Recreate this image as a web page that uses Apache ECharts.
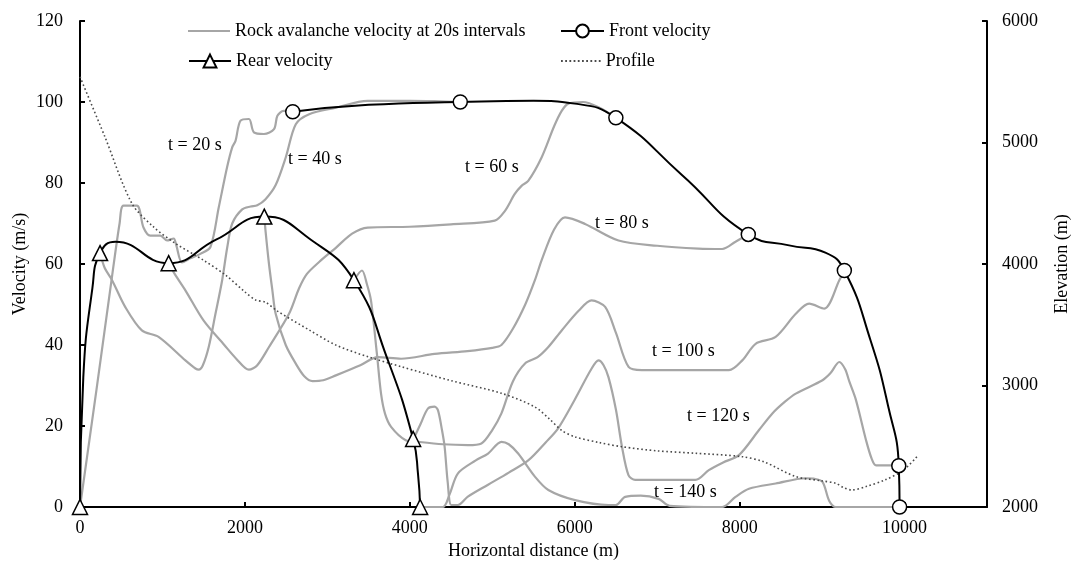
<!DOCTYPE html>
<html>
<head>
<meta charset="utf-8">
<script src="https://cdn.jsdelivr.net/npm/echarts@6/dist/echarts.min.js"></script>
<style>html,body{margin:0;padding:0;background:#fff}#c{width:1072px;height:563px}</style>
</head>
<body>
<div id="c"></div>
<script>
// ---- data (x: horizontal distance m, y: velocity m/s) ----
const xTicks = [0, 2000, 4000, 6000, 8000, 10000];
const t20 = [[0,0],[200,29],[389,57],[480,70],[527,74.4],[690,74.4],[770,69],[852,67],[974,67],[1055,65.8],[1136,66.3],[1168,64.6],[1237,60.4],[1339,61.4],[1460,62.5],[1582,64.2],[1683,74],[1785,84],[1846,88.8],[1886,90.4],[1947,95.4],[2049,95.8],[2109,92.5],[2231,92.1],[2353,93.3],[2394,96.6],[2470,97.8],[2580,97.6]];
const t40 = [[243,62.7],[300,59],[389,56],[548,49.4],[750,43.6],[953,42],[1278,36.2],[1400,34.2],[1440,33.9],[1490,35],[1561,39.5],[1643,47.7],[1724,56],[1785,64],[1846,70],[1967,73.5],[2069,74.2],[2150,74.5],[2250,76],[2373,79.5],[2495,86.3],[2617,94.5],[2779,97],[3103,98.6],[3489,100.3],[4000,100.3],[4300,100.2],[4612,100]];
const t60 = [[1075,60.2],[1150,57.5],[1278,53.5],[1500,46],[1750,40],[1900,36.5],[2048,33.9],[2150,35],[2292,39.5],[2535,47.7],[2657,54],[2750,57.5],[2900,60.5],[3103,64],[3300,67.5],[3489,69],[4000,69.2],[4500,69.8],[5030,70.7],[5150,73],[5273,77.3],[5355,79.3],[5436,80.5],[5598,86.3],[5750,94],[5842,97.8],[5923,99.6],[6100,100],[6300,98.6],[6499,96.1]];
const t80 = [[2235,71.7],[2251,68],[2292,60],[2333,53.5],[2373,47.7],[2495,40],[2617,35.4],[2720,32.3],[2820,31.1],[2950,31.3],[3103,32.5],[3400,35],[3611,37],[3894,36.6],[4300,37.8],[4700,38.5],[5000,39.3],[5111,40],[5250,44],[5400,50],[5517,56],[5598,60.9],[5750,68.5],[5882,71.5],[6125,69.9],[6531,65.8],[7000,64.5],[7500,63.8],[7789,63.7],[7950,65.5],[8105,67.3]];
const t100 = [[3322,56],[3420,58.4],[3480,55],[3529,51],[3600,38],[3651,28],[3700,23],[3773,19.8],[3950,16.5],[4097,16.1],[4400,15.5],[4706,15.3],[4868,15.7],[5000,19],[5111,23.1],[5250,31],[5400,35.5],[5550,37],[5680,39.5],[5842,43.6],[6050,48.5],[6204,51],[6369,49.4],[6500,43],[6653,34.6],[6815,33.8],[7870,33.8],[8032,36.2],[8194,40.3],[8437,42],[8681,47.7],[8843,50.2],[9026,49],[9209,56],[9270,58.6]];
const t120 = [[4045,16.8],[4130,20.5],[4219,24.3],[4300,24.8],[4341,23.9],[4390,19],[4422,14.9],[4460,6],[4503,0.5],[4584,0.5],[4700,2.5],[4949,5.5],[5200,8.5],[5436,11.5],[5650,16],[5801,19.5],[6000,26.5],[6200,34],[6288,36.2],[6350,35],[6410,32],[6500,24],[6572,15],[6653,7.8],[6734,6.7],[7464,6.7],[7626,9.1],[7800,11],[7991,12.8],[8235,19],[8397,23.1],[8550,26],[8681,28],[9005,31.3],[9100,33],[9209,35.8],[9280,34],[9330,31],[9411,26.4],[9533,16.5],[9600,12],[9655,10.3],[9925,10.3]];
const t140 = [[4130,0],[4400,0],[4480,3],[4584,8.3],[4800,11.5],[4949,13.2],[5111,16.1],[5200,15.5],[5314,13.2],[5517,7.5],[5680,4.2],[6004,1.7],[6410,0.5],[6500,0.5],[6612,2.5],[6800,2.8],[7018,2],[7150,0.3],[7789,0],[7950,2.5],[8113,4.5],[8437,5.8],[8803,7.1],[8900,7],[9005,6.2],[9087,1.5],[9168,0],[9940,0]];
const snapshots = [t20, t40, t60, t80, t100, t120, t140];
const snapshotLabels = ['t = 20 s','t = 40 s','t = 60 s','t = 80 s','t = 100 s','t = 120 s','t = 140 s'];

const frontMarks = [[2580,97.6],[4612,100],[6499,96.1],[8105,67.3],[9270,58.4],[9930,10.2],[9940,0]];
const frontPath = [[3500,99.3],[5500,100.3],[6000,99.6],[7300,82],[8600,64.6],[9040,62.8],[9590,41],[9800,25]];
const rearMarks = [[0,0],[243,62.7],[1075,60.2],[2235,71.7],[3322,56],[4040,16.8],[4125,0]];
const rearPath = [[40,32],[150,54],[430,65.5],[1650,66],[2800,66],[3720,37],[4100,8]];

// elevation profile (x m, elevation m)
const profile = [[0,5540],[300,5050],[629,4499],[900,4300],[1156,4170],[1500,4030],[1765,3909],[2000,3770],[2130,3704],[2251,3685],[2400,3610],[2779,3457],[3103,3333],[3500,3235],[3894,3155],[4500,3040],[5111,2936],[5513,2825],[5700,2720],[5842,2630],[6000,2578],[6300,2530],[6572,2496],[7000,2462],[7464,2442],[8032,2414],[8300,2370],[8681,2250],[9000,2215],[9168,2195],[9260,2160],[9360,2140],[9540,2170],[9760,2222],[9980,2300],[10150,2414]];

const NAME_GRAY = 'Rock avalanche velocity at 20s intervals';
const FONT = 'Liberation Serif';

function withMarkers(marks, path) {
  const items = marks.map(p => ({ value: p }))
    .concat(path.map(p => ({ value: p, symbol: 'none' })));
  items.sort((a, b) => a.value[0] - b.value[0]);
  return items;
}

// dotted legend icon (40 x 2)
let dots = 'path://';
for (let i = 0; i < 10; i++) { const x = i * 4.2; dots += 'M' + x + ',0h1.8v2h-1.8z'; }

const chart = echarts.init(document.getElementById('c'), null, { renderer: 'canvas' });

const series = [];
snapshots.forEach(s => series.push({
  name: NAME_GRAY, type: 'line', data: s, symbol: 'none', smooth: 0.3,
  lineStyle: { color: '#a6a6a6', width: 2.2 }, itemStyle: { color: '#a6a6a6' },
  z: 2, silent: true
}));
series.push({
  name: 'Profile', type: 'line', yAxisIndex: 1, data: profile, symbol: 'none', smooth: 0.3,
  lineStyle: { color: '#4a4a4a', width: 1.6, type: [1.6, 2.6] }, itemStyle: { color: '#4a4a4a' }, z: 3
});
series.push({
  name: 'Rear velocity', type: 'line', data: withMarkers(rearMarks, rearPath),
  symbol: 'triangle', symbolSize: 15, showAllSymbol: true, smooth: 0.5,
  lineStyle: { color: '#000', width: 2 },
  itemStyle: { color: '#fff', borderColor: '#000', borderWidth: 1.5 }, z: 5
});
series.push({
  name: 'Front velocity', type: 'line', data: withMarkers(frontMarks, frontPath),
  symbol: 'circle', symbolSize: 14, showAllSymbol: true, smooth: 0.5,
  lineStyle: { color: '#000', width: 2 },
  itemStyle: { color: '#fff', borderColor: '#000', borderWidth: 1.5 }, z: 6
});

const legendText = { fontFamily: FONT, fontSize: 18, color: '#000' };
function leg(item, left, top, w, h) {
  return { data: [item], left: left, top: top, itemWidth: w, itemHeight: h, padding: 0,
    textStyle: legendText, selectedMode: false };
}

const labelPos = [[168,145],[288,159],[465,167],[595,223],[652,351],[687,416],[654,492]];

chart.setOption({
  animation: false,
  backgroundColor: '#fff',
  grid: { left: 80, right: 85, top: 21, bottom: 56, containLabel: false, outerBoundsMode: 'none' },
  legend: [
    leg({ name: NAME_GRAY, icon: 'rect', itemStyle: { color: '#a6a6a6' } }, 188, 22, 42, 2),
    leg('Front velocity', 560, 22, 43, 16),
    leg('Rear velocity', 188, 52, 42, 16),
    leg({ name: 'Profile', icon: dots, itemStyle: { color: '#4a4a4a' } }, 561, 52, 40, 2)
  ],
  xAxis: {
    type: 'value', min: 0, max: 11000, interval: 2000,
    name: 'Horizontal distance (m)', nameLocation: 'middle', nameGap: 31,
    nameTextStyle: { fontFamily: FONT, fontSize: 18, color: '#000' },
    axisLine: { show: true, lineStyle: { color: '#000', width: 2 } },
    axisTick: { show: true, inside: true, length: 5, lineStyle: { color: '#000', width: 2 } },
    axisLabel: { fontFamily: FONT, fontSize: 18, color: '#000', margin: 12,
      formatter: v => xTicks.indexOf(v) >= 0 ? String(v) : '' },
    splitLine: { show: false }
  },
  yAxis: [
    {
      type: 'value', min: 0, max: 120, interval: 20, position: 'left',
      name: 'Velocity (m/s)', nameLocation: 'middle', nameGap: 51, nameRotate: 90,
      nameMoveOverlap: false,
      nameTextStyle: { fontFamily: FONT, fontSize: 18, color: '#000' },
      axisLine: { show: true, lineStyle: { color: '#000', width: 2 } },
      axisTick: { show: true, inside: true, length: 5, lineStyle: { color: '#000', width: 2 } },
      axisLabel: { fontFamily: FONT, fontSize: 18, color: '#000', margin: 17 },
      splitLine: { show: false }
    },
    {
      type: 'value', min: 2000, max: 6000, interval: 1000, position: 'right',
      name: 'Elevation (m)', nameLocation: 'middle', nameGap: 66, nameRotate: 90,
      nameTextStyle: { fontFamily: FONT, fontSize: 18, color: '#000' },
      axisLine: { show: true, lineStyle: { color: '#000', width: 2 } },
      axisTick: { show: true, inside: true, length: 5, lineStyle: { color: '#000', width: 2 } },
      axisLabel: { fontFamily: FONT, fontSize: 18, color: '#000', margin: 15,
        formatter: v => String(v) },
      splitLine: { show: false }
    }
  ],
  graphic: snapshotLabels.map((t, i) => ({
    type: 'text', z: 10,
    style: { text: t, x: labelPos[i][0], y: labelPos[i][1], fill: '#000',
      font: '18px "Liberation Serif"', verticalAlign: 'middle' }
  })),
  series: series
});
</script>
</body>
</html>
